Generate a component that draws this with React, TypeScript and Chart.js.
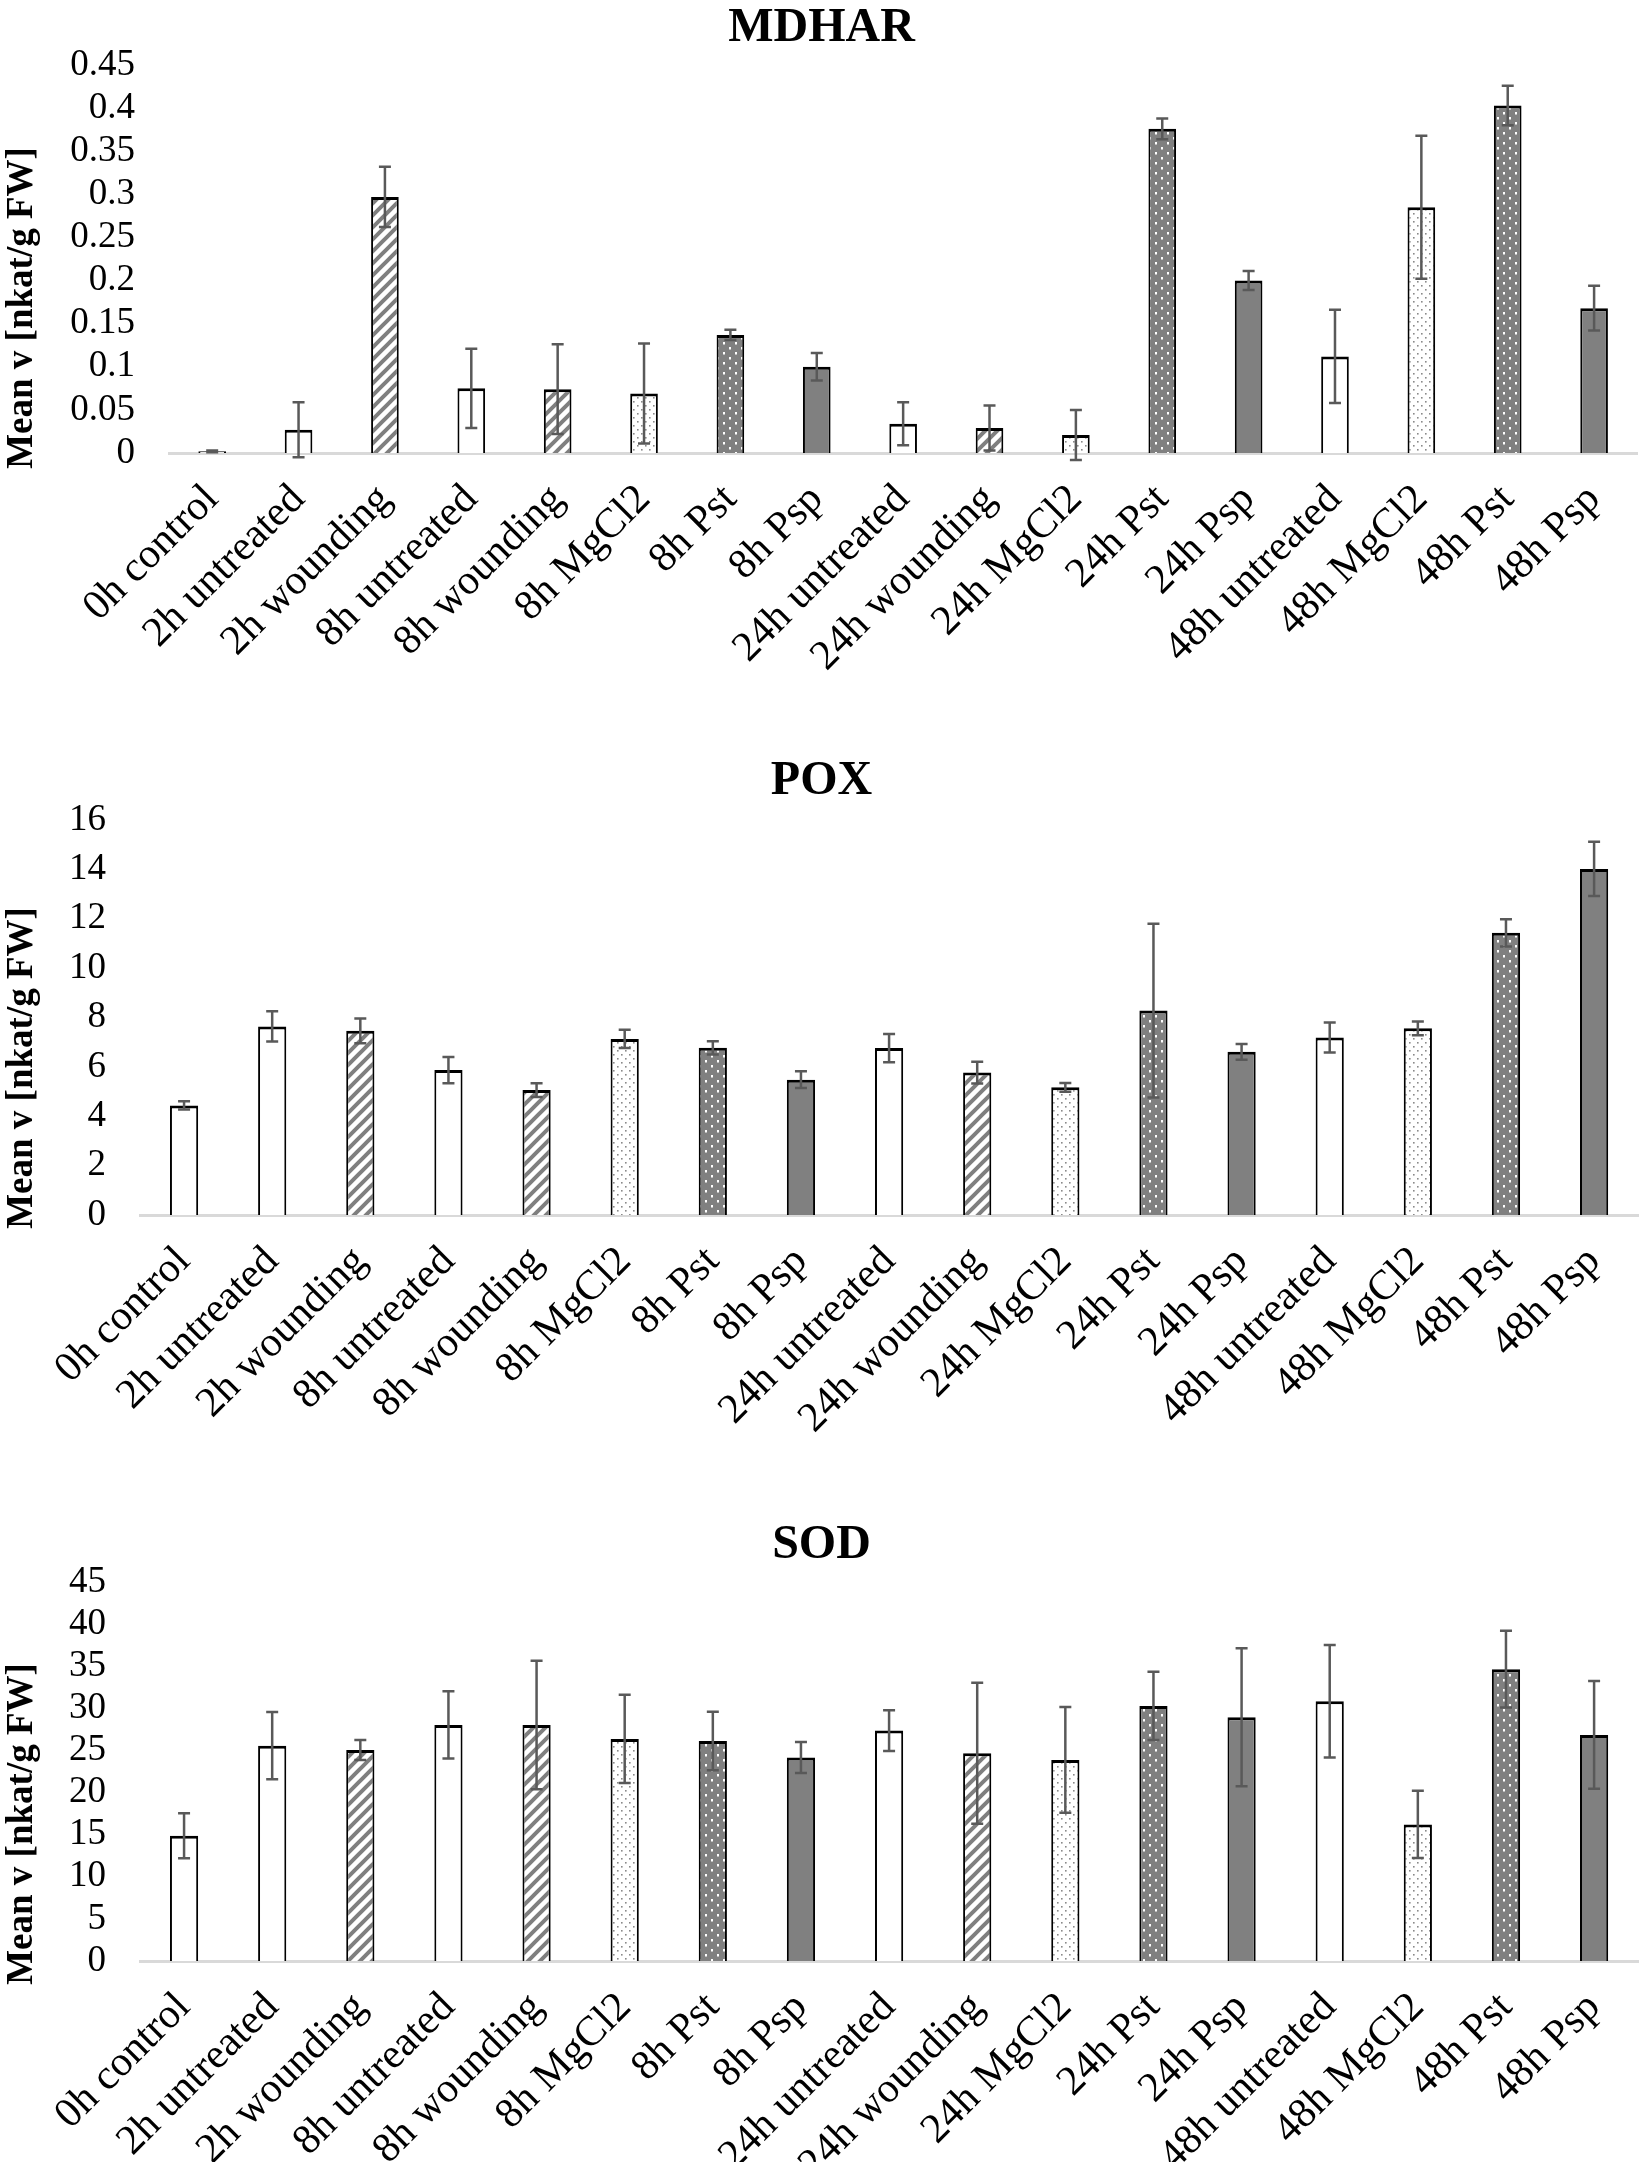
import React, { useEffect, useRef } from 'react';
import { Chart, registerables } from 'chart.js';

Chart.register(...registerables);

// ---------- data ----------
const categories = [
  '0h control', '2h untreated', '2h wounding', '8h untreated', '8h wounding', '8h MgCl2', '8h Pst', '8h Psp',
  '24h untreated', '24h wounding', '24h MgCl2', '24h Pst', '24h Psp', '48h untreated', '48h MgCl2', '48h Pst', '48h Psp',
];
const treatments = [
  'untreated', 'untreated', 'wounding', 'untreated', 'wounding', 'MgCl2', 'Pst', 'Psp',
  'untreated', 'wounding', 'MgCl2', 'Pst', 'Psp', 'untreated', 'MgCl2', 'Pst', 'Psp',
];

const mdharMean = [0.002, 0.027, 0.297, 0.075, 0.074, 0.069, 0.137, 0.100, 0.034, 0.029, 0.021, 0.376, 0.200, 0.112, 0.285, 0.403, 0.168];
const mdharErr = [0.001, 0.032, 0.035, 0.046, 0.052, 0.058, 0.006, 0.016, 0.025, 0.026, 0.029, 0.012, 0.011, 0.054, 0.083, 0.023, 0.026];
const mdharTicks = ['0', '0.05', '0.1', '0.15', '0.2', '0.25', '0.3', '0.35', '0.4', '0.45'];

const poxMean = [4.44, 7.64, 7.46, 5.87, 5.06, 7.13, 6.77, 5.48, 6.76, 5.77, 5.17, 8.28, 6.61, 7.19, 7.56, 11.43, 14.02];
const poxErr = [0.17, 0.61, 0.5, 0.53, 0.28, 0.37, 0.27, 0.34, 0.57, 0.44, 0.18, 3.52, 0.32, 0.61, 0.28, 0.55, 1.1];
const poxTicks = ['0', '2', '4', '6', '8', '10', '12', '14', '16'];

const sodMean = [14.87, 25.57, 25.06, 28.03, 28.03, 26.37, 26.13, 24.15, 27.36, 24.66, 23.87, 30.29, 28.95, 30.85, 16.22, 34.65, 26.84];
const sodErr = [2.68, 4.0, 1.19, 4.0, 7.63, 5.25, 3.47, 1.84, 2.42, 8.37, 6.28, 4.04, 8.19, 6.68, 3.98, 4.56, 6.4];
const sodTicks = ['0', '5', '10', '15', '20', '25', '30', '35', '40', '45'];

const yTitleText = 'Mean v [nkat/g FW]';
const FONT = "'Liberation Serif', 'Times New Roman', serif";

// ---------- patterns ----------
function makePatterns() {
  const mk = (w: number, h: number, draw: (c: CanvasRenderingContext2D) => void) => {
    const cv = document.createElement('canvas');
    cv.width = w; cv.height = h;
    const c = cv.getContext('2d')!;
    draw(c);
    return c.createPattern(cv, 'repeat')!;
  };
  const stripes = mk(12, 12, (c) => {
    c.fillStyle = '#ffffff'; c.fillRect(0, 0, 12, 12);
    c.strokeStyle = '#7f7f7f'; c.lineWidth = 4;
    c.beginPath();
    c.moveTo(-6, 6); c.lineTo(6, -6);
    c.moveTo(0, 12); c.lineTo(12, 0);
    c.moveTo(6, 18); c.lineTo(18, 6);
    c.stroke();
  });
  const lightDots = mk(8, 8, (c) => {
    c.fillStyle = '#ffffff'; c.fillRect(0, 0, 8, 8);
    c.fillStyle = '#8a8a8a';
    c.fillRect(1, 1, 1.6, 1.6);
    c.fillRect(5, 5, 1.6, 1.6);
  });
  const darkDots = mk(12, 10, (c) => {
    c.fillStyle = '#808080'; c.fillRect(0, 0, 12, 10);
    c.fillStyle = '#ffffff';
    c.fillRect(3, 2, 2, 2.5);
    c.fillRect(9, 7, 2, 2.5);
  });
  return {
    untreated: '#ffffff',
    wounding: stripes,
    MgCl2: lightDots,
    Pst: darkDots,
    Psp: '#808080',
  } as Record<string, any>;
}

// ---------- plugins ----------
const errorBarPlugin = {
  id: 'errorBars',
  afterDatasetsDraw(chart: any, _args: any, opts: any) {
    const errs: number[] = opts.errors || [];
    const meta = chart.getDatasetMeta(0);
    const ys = chart.scales.y;
    const vals = chart.data.datasets[0].data as number[];
    const ctx = chart.ctx;
    ctx.save();
    ctx.strokeStyle = '#595959';
    ctx.lineWidth = 2.5;
    meta.data.forEach((bar: any, i: number) => {
      const v = vals[i];
      const e = errs[i] || 0;
      const t = ys.getPixelForValue(v + e);
      const b = ys.getPixelForValue(v - e);
      const x = bar.x;
      const cap = 6;
      ctx.beginPath();
      ctx.moveTo(x, t); ctx.lineTo(x, b);
      ctx.moveTo(x - cap, t); ctx.lineTo(x + cap, t);
      ctx.moveTo(x - cap, b); ctx.lineTo(x + cap, b);
      ctx.stroke();
    });
    ctx.restore();
  },
};

const yTitlePlugin = {
  id: 'yTitle',
  afterDraw(chart: any, _args: any, opts: any) {
    const ctx = chart.ctx;
    ctx.save();
    ctx.translate(opts.x, chart.chartArea.bottom - opts.offset);
    ctx.rotate(-Math.PI / 2);
    ctx.font = `bold ${opts.size}px ${FONT}`;
    ctx.fillStyle = '#000';
    ctx.textAlign = 'center';
    ctx.textBaseline = 'middle';
    ctx.fillText(opts.text, 0, 0);
    ctx.restore();
  },
};

type Spec = {
  title: string;
  mean: number[];
  err: number[];
  ticks: string[];
  max: number;
  step: number;
  top: number;
  height: number;
  yWidth: number;
  xHeight: number;
  titlePadBottom: number;
  yTitleOffset: number;
};

const specs: Spec[] = [
  { title: 'MDHAR', mean: mdharMean, err: mdharErr, ticks: mdharTicks, max: 0.45, step: 0.05, top: 0, height: 745, yWidth: 169, xHeight: 292, titlePadBottom: 7.4, yTitleOffset: 145 },
  { title: 'POX', mean: poxMean, err: poxErr, ticks: poxTicks, max: 16, step: 2, top: 753, height: 757, yWidth: 140, xHeight: 295, titlePadBottom: 9.4, yTitleOffset: 147 },
  { title: 'SOD', mean: sodMean, err: sodErr, ticks: sodTicks, max: 45, step: 5, top: 1517, height: 645, yWidth: 140, xHeight: 201, titlePadBottom: 7.4, yTitleOffset: 137 },
];

function BarChart({ spec }: { spec: Spec }) {
  const ref = useRef<HTMLCanvasElement>(null);
  useEffect(() => {
    if (!ref.current) return;
    const pats = makePatterns();
    const chart = new Chart(ref.current, {
      type: 'bar',
      data: {
        labels: categories,
        datasets: [
          {
            data: spec.mean,
            backgroundColor: treatments.map((t) => pats[t]),
            borderColor: '#000000',
            borderWidth: { top: 3, left: 2, right: 2, bottom: 0 },
            borderSkipped: false,
            barPercentage: 0.32,
            categoryPercentage: 1,
          },
        ],
      },
      options: {
        animation: false,
        responsive: false,
        maintainAspectRatio: false,
        layout: { padding: { left: 0, right: 9, top: 0, bottom: 0 } },
        plugins: {
          legend: { display: false },
          tooltip: { enabled: false },
          title: {
            display: true,
            text: spec.title,
            color: '#000',
            font: { family: FONT, size: 48, weight: 'bold' },
            padding: { top: 0, bottom: spec.titlePadBottom },
          },
          errorBars: { errors: spec.err },
          yTitle: { text: yTitleText, x: 22, offset: spec.yTitleOffset, size: 37 },
        } as any,
        scales: {
          x: {
            grid: { display: false, drawTicks: false },
            border: { display: true, color: '#d9d9d9', width: 3 },
            ticks: {
              autoSkip: false,
              maxRotation: 45,
              minRotation: 45,
              color: '#000',
              padding: 22,
              font: { family: FONT, size: 42 },
            },
            afterFit: (s: any) => { s.height = spec.xHeight; },
          },
          y: {
            min: 0,
            max: spec.max,
            grid: { display: false, drawTicks: false },
            border: { display: false },
            ticks: {
              autoSkip: false,
              stepSize: spec.step,
              color: '#000',
              padding: 34,
              font: { family: FONT, size: 37 },
              callback: (v: any) => spec.ticks[Math.round(Number(v) / spec.step)] ?? '',
            },
            afterFit: (s: any) => { s.width = spec.yWidth; },
          },
        },
      },
      plugins: [errorBarPlugin, yTitlePlugin],
    } as any);
    return () => chart.destroy();
  }, [spec]);
  return (
    <div style={{ position: 'absolute', left: 0, top: spec.top, width: 1652, height: spec.height }}>
      <canvas ref={ref} width={1652} height={spec.height} style={{ width: 1652, height: spec.height, display: 'block' }} />
    </div>
  );
}

export default function App() {
  return (
    <div style={{ position: 'absolute', left: 0, top: 0, width: 1652, height: 2162, background: '#ffffff' }}>
      {specs.map((s) => (
        <BarChart key={s.title} spec={s} />
      ))}
    </div>
  );
}
